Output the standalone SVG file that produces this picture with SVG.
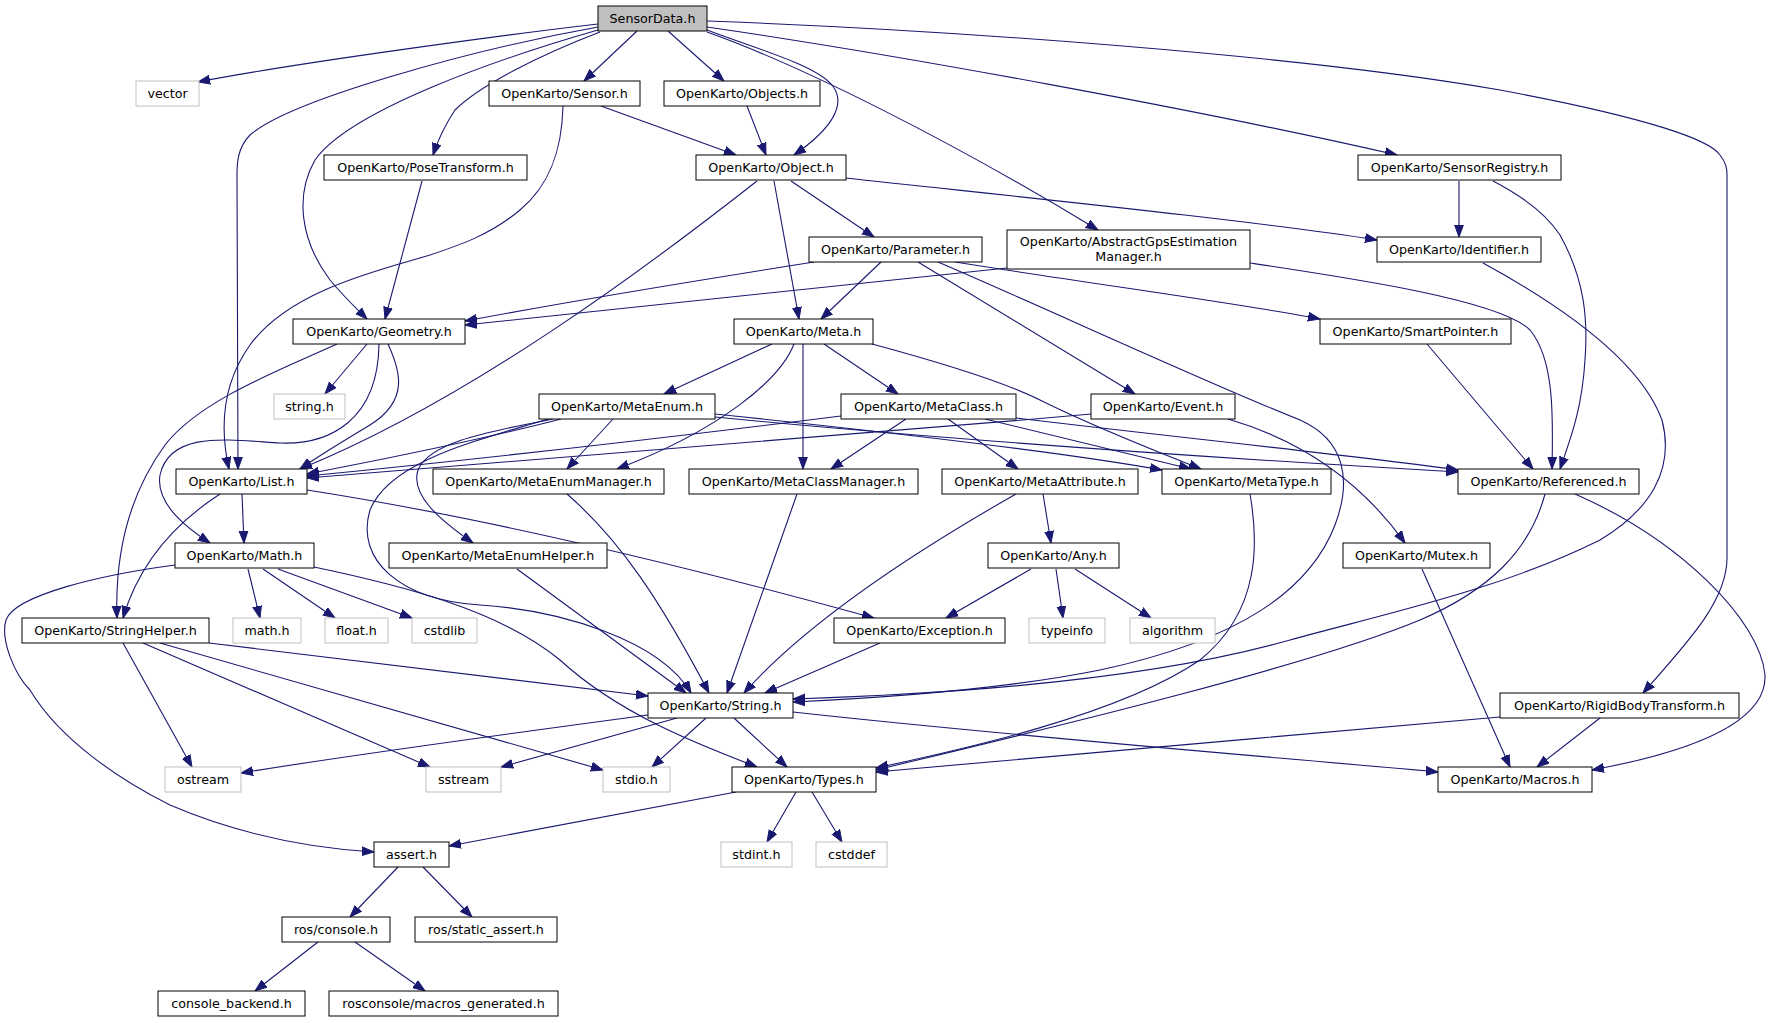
<svg xmlns="http://www.w3.org/2000/svg" width="1773" height="1023" viewBox="0 0 1773 1023">
<style>
.n rect{fill:#fff;stroke:#000;stroke-width:1}
.n.root rect{fill:#bfbfbf}
.n.ext rect{stroke:#bfbfbf}
.n text{font-family:"DejaVu Sans",sans-serif;font-size:12.7px;text-anchor:middle;fill:#000}
#edges path{fill:none;stroke:#191970;stroke-width:1.1;marker-end:url(#arr)}
</style>
<defs>
<marker id="arr" markerUnits="userSpaceOnUse" markerWidth="14" markerHeight="12" refX="12" refY="5" orient="auto">
<path d="M0,0.6 L12,5 L0,9.4 z" fill="#191970" stroke="#191970" stroke-width="1"/>
</marker>
</defs>
<rect width="1773" height="1023" fill="#fff"/>
<g id="edges">
<path d="M598,24 C520,33 300,62 198,82"/>
<path d="M598,27 C470,50 290,100 250,135 C237,148 237,165 237,175 L238,469"/>
<path d="M598,30 C500,58 350,110 315,160 C295,195 300,240 330,280 C345,298 358,310 367,319"/>
<path d="M600,32 C540,55 480,85 455,110 C445,125 438,140 433,155"/>
<path d="M637,31 L584,81"/>
<path d="M668,31 L724,81"/>
<path d="M707,30 C760,50 815,65 832,85 C848,105 830,130 794,155"/>
<path d="M707,32 C800,65 950,140 1098,230"/>
<path d="M707,27 C900,55 1200,110 1397,155"/>
<path d="M707,21 C950,30 1300,55 1500,90 C1650,118 1710,140 1720,155 C1726,163 1727,168 1727,175 L1727,558 C1727,600 1690,640 1643,693"/>
<path d="M601,106 L736,155"/>
<path d="M563,106 C562,150 550,185 520,210 C490,235 460,245 430,255 C380,270 290,290 250,345 C225,380 218,420 229,469"/>
<path d="M747,106 L766,155"/>
<path d="M757,181 C650,265 470,400 300,469"/>
<path d="M774,181 L799,319"/>
<path d="M791,181 L874,237"/>
<path d="M846,178 C1000,195 1250,220 1377,240"/>
<path d="M422,181 L385,319"/>
<path d="M1459,181 L1459,237"/>
<path d="M1493,181 C1520,195 1545,212 1560,235 C1585,280 1588,320 1585,360 C1582,410 1570,440 1560,469"/>
<path d="M1007,268 C800,290 600,312 465,325"/>
<path d="M814,262 C700,280 550,305 465,321"/>
<path d="M1250,263 C1350,278 1500,300 1530,330 C1555,360 1553,420 1552,469"/>
<path d="M881,262 L821,319"/>
<path d="M918,262 L1135,394"/>
<path d="M938,262 C1050,310 1200,380 1300,420 C1345,440 1352,480 1335,525 C1310,590 1240,640 1100,670 C1000,690 880,698 793,702"/>
<path d="M955,262 C1100,285 1250,305 1320,319"/>
<path d="M1483,263 C1560,305 1640,360 1662,420 C1675,470 1650,510 1600,540 C1500,590 1380,615 1290,640 C1150,680 950,694 793,699"/>
<path d="M1427,344 L1533,469"/>
<path d="M367,344 L325,394"/>
<path d="M388,344 C400,370 410,400 370,425 C345,440 320,455 300,469"/>
<path d="M379,344 C378,420 330,445 280,443 C230,440 170,430 160,475 C155,505 190,530 210,543"/>
<path d="M337,344 C280,370 200,400 165,445 C125,500 115,560 117,618"/>
<path d="M772,344 L664,394"/>
<path d="M824,344 L898,394"/>
<path d="M794,344 C780,380 720,430 617,469"/>
<path d="M803,344 L803,469"/>
<path d="M872,344 C950,365 1010,385 1040,400 C1080,420 1140,445 1201,469"/>
<path d="M561,419 C480,440 380,460 307,474"/>
<path d="M613,419 L567,469"/>
<path d="M553,419 C500,430 430,440 418,470 C410,495 440,520 473,543"/>
<path d="M548,419 C480,440 390,460 370,510 C355,560 400,600 480,605 C560,610 660,640 691,693"/>
<path d="M715,414 C850,428 1050,450 1162,470"/>
<path d="M715,417 C950,440 1250,460 1458,472"/>
<path d="M841,416 C650,440 450,462 307,476"/>
<path d="M906,419 L831,469"/>
<path d="M948,419 L1018,469"/>
<path d="M985,419 L1191,469"/>
<path d="M1016,418 C1200,440 1350,455 1458,470"/>
<path d="M1091,414 C800,440 500,462 307,478"/>
<path d="M1228,419 C1300,440 1360,480 1405,543"/>
<path d="M242,494 L244,543"/>
<path d="M220,494 C180,520 140,560 123,618"/>
<path d="M307,490 C500,520 700,570 874,618"/>
<path d="M567,494 C620,540 660,600 709,693"/>
<path d="M797,494 L727,693"/>
<path d="M1016,494 C900,560 800,630 744,693"/>
<path d="M1043,494 L1051,543"/>
<path d="M1250,494 C1258,540 1262,610 1200,660 C1120,715 960,750 876,768"/>
<path d="M1545,494 C1530,550 1490,590 1420,620 C1300,670 1000,740 876,770"/>
<path d="M1575,494 C1680,540 1760,620 1765,675 C1767,720 1700,750 1592,770"/>
<path d="M248,569 L260,618"/>
<path d="M263,569 L335,618"/>
<path d="M278,569 L412,618"/>
<path d="M175,565 C100,575 15,595 6,620 C0,640 15,675 30,690 C60,740 120,780 170,805 C240,835 310,848 374,852"/>
<path d="M314,567 C400,585 500,610 560,660 C620,715 700,745 757,767"/>
<path d="M517,569 L686,693"/>
<path d="M1031,569 L946,618"/>
<path d="M1056,569 L1063,618"/>
<path d="M1075,569 L1151,618"/>
<path d="M1422,569 L1510,767"/>
<path d="M123,643 L192,767"/>
<path d="M143,643 L430,767"/>
<path d="M160,643 L603,770"/>
<path d="M209,643 L648,696"/>
<path d="M880,643 L765,693"/>
<path d="M1500,717 C1300,735 1000,760 876,772"/>
<path d="M1600,718 L1537,767"/>
<path d="M648,715 C500,735 350,755 241,773"/>
<path d="M677,718 L501,767"/>
<path d="M706,718 L652,767"/>
<path d="M734,718 L787,767"/>
<path d="M793,712 C1000,735 1250,755 1438,772"/>
<path d="M736,792 L449,846"/>
<path d="M796,792 L767,842"/>
<path d="M812,792 L842,842"/>
<path d="M398,867 L350,917"/>
<path d="M423,867 L472,917"/>
<path d="M318,942 L255,991"/>
<path d="M355,942 L425,991"/>
</g>
<g id="n-SensorData" class="n root"><rect x="598" y="6" width="109" height="25"/><text x="652.5" y="23">SensorData.h</text></g>
<g id="n-vector" class="n ext"><rect x="136" y="81" width="63" height="25"/><text x="167.5" y="98">vector</text></g>
<g id="n-Sensor" class="n"><rect x="489" y="81" width="151" height="25"/><text x="564.5" y="98">OpenKarto/Sensor.h</text></g>
<g id="n-Objects" class="n"><rect x="664" y="81" width="156" height="25"/><text x="742" y="98">OpenKarto/Objects.h</text></g>
<g id="n-PoseTransform" class="n"><rect x="324" y="155" width="203" height="25"/><text x="425.5" y="172">OpenKarto/PoseTransform.h</text></g>
<g id="n-Object" class="n"><rect x="696" y="155" width="150" height="25"/><text x="771" y="172">OpenKarto/Object.h</text></g>
<g id="n-SensorRegistry" class="n"><rect x="1358" y="155" width="203" height="25"/><text x="1459.5" y="172">OpenKarto/SensorRegistry.h</text></g>
<g id="n-Parameter" class="n"><rect x="809" y="237" width="173" height="25"/><text x="895.5" y="254">OpenKarto/Parameter.h</text></g>
<g id="n-Abstract" class="n"><rect x="1007" y="230" width="243" height="39"/><text x="1128.5" y="246">OpenKarto/AbstractGpsEstimation</text><text x="1128.5" y="261">Manager.h</text></g>
<g id="n-Identifier" class="n"><rect x="1377" y="237" width="164" height="25"/><text x="1459" y="254">OpenKarto/Identifier.h</text></g>
<g id="n-Geometry" class="n"><rect x="293" y="319" width="172" height="25"/><text x="379" y="336">OpenKarto/Geometry.h</text></g>
<g id="n-Meta" class="n"><rect x="734" y="319" width="139" height="25"/><text x="803.5" y="336">OpenKarto/Meta.h</text></g>
<g id="n-SmartPointer" class="n"><rect x="1320" y="319" width="191" height="25"/><text x="1415.5" y="336">OpenKarto/SmartPointer.h</text></g>
<g id="n-string" class="n ext"><rect x="274" y="394" width="71" height="25"/><text x="309.5" y="411">string.h</text></g>
<g id="n-MetaEnum" class="n"><rect x="539" y="394" width="176" height="25"/><text x="627" y="411">OpenKarto/MetaEnum.h</text></g>
<g id="n-MetaClass" class="n"><rect x="841" y="394" width="175" height="25"/><text x="928.5" y="411">OpenKarto/MetaClass.h</text></g>
<g id="n-Event" class="n"><rect x="1091" y="394" width="144" height="25"/><text x="1163" y="411">OpenKarto/Event.h</text></g>
<g id="n-List" class="n"><rect x="176" y="469" width="131" height="25"/><text x="241.5" y="486">OpenKarto/List.h</text></g>
<g id="n-MetaEnumManager" class="n"><rect x="433" y="469" width="231" height="25"/><text x="548.5" y="486">OpenKarto/MetaEnumManager.h</text></g>
<g id="n-MetaClassManager" class="n"><rect x="689" y="469" width="229" height="25"/><text x="803.5" y="486">OpenKarto/MetaClassManager.h</text></g>
<g id="n-MetaAttribute" class="n"><rect x="942" y="469" width="196" height="25"/><text x="1040" y="486">OpenKarto/MetaAttribute.h</text></g>
<g id="n-MetaType" class="n"><rect x="1162" y="469" width="169" height="25"/><text x="1246.5" y="486">OpenKarto/MetaType.h</text></g>
<g id="n-Referenced" class="n"><rect x="1458" y="469" width="181" height="25"/><text x="1548.5" y="486">OpenKarto/Referenced.h</text></g>
<g id="n-Math" class="n"><rect x="175" y="543" width="139" height="25"/><text x="244.5" y="560">OpenKarto/Math.h</text></g>
<g id="n-MetaEnumHelper" class="n"><rect x="389" y="543" width="218" height="25"/><text x="498" y="560">OpenKarto/MetaEnumHelper.h</text></g>
<g id="n-Any" class="n"><rect x="988" y="543" width="131" height="25"/><text x="1053.5" y="560">OpenKarto/Any.h</text></g>
<g id="n-Mutex" class="n"><rect x="1343" y="543" width="147" height="25"/><text x="1416.5" y="560">OpenKarto/Mutex.h</text></g>
<g id="n-StringHelper" class="n"><rect x="22" y="618" width="187" height="25"/><text x="115.5" y="635">OpenKarto/StringHelper.h</text></g>
<g id="n-mathh" class="n ext"><rect x="233" y="618" width="68" height="25"/><text x="267" y="635">math.h</text></g>
<g id="n-floath" class="n ext"><rect x="325" y="618" width="63" height="25"/><text x="356.5" y="635">float.h</text></g>
<g id="n-cstdlib" class="n ext"><rect x="412" y="618" width="65" height="25"/><text x="444.5" y="635">cstdlib</text></g>
<g id="n-Exception" class="n"><rect x="834" y="618" width="171" height="25"/><text x="919.5" y="635">OpenKarto/Exception.h</text></g>
<g id="n-typeinfo" class="n ext"><rect x="1029" y="618" width="76" height="25"/><text x="1067" y="635">typeinfo</text></g>
<g id="n-algorithm" class="n ext"><rect x="1130" y="618" width="85" height="25"/><text x="1172.5" y="635">algorithm</text></g>
<g id="n-String" class="n"><rect x="648" y="693" width="145" height="25"/><text x="720.5" y="710">OpenKarto/String.h</text></g>
<g id="n-RigidBody" class="n"><rect x="1500" y="693" width="239" height="25"/><text x="1619.5" y="710">OpenKarto/RigidBodyTransform.h</text></g>
<g id="n-ostream" class="n ext"><rect x="165" y="767" width="76" height="25"/><text x="203" y="784">ostream</text></g>
<g id="n-sstream" class="n ext"><rect x="426" y="767" width="75" height="25"/><text x="463.5" y="784">sstream</text></g>
<g id="n-stdio" class="n ext"><rect x="603" y="767" width="67" height="25"/><text x="636.5" y="784">stdio.h</text></g>
<g id="n-Types" class="n"><rect x="732" y="767" width="144" height="25"/><text x="804" y="784">OpenKarto/Types.h</text></g>
<g id="n-Macros" class="n"><rect x="1438" y="767" width="154" height="25"/><text x="1515" y="784">OpenKarto/Macros.h</text></g>
<g id="n-assert" class="n"><rect x="374" y="842" width="75" height="25"/><text x="411.5" y="859">assert.h</text></g>
<g id="n-stdint" class="n ext"><rect x="721" y="842" width="71" height="25"/><text x="756.5" y="859">stdint.h</text></g>
<g id="n-cstddef" class="n ext"><rect x="816" y="842" width="71" height="25"/><text x="851.5" y="859">cstddef</text></g>
<g id="n-console" class="n"><rect x="282" y="917" width="108" height="25"/><text x="336" y="934">ros/console.h</text></g>
<g id="n-static_assert" class="n"><rect x="415" y="917" width="142" height="25"/><text x="486" y="934">ros/static_assert.h</text></g>
<g id="n-console_backend" class="n"><rect x="158" y="991" width="147" height="25"/><text x="231.5" y="1008">console_backend.h</text></g>
<g id="n-macros_generated" class="n"><rect x="329" y="991" width="229" height="25"/><text x="443.5" y="1008">rosconsole/macros_generated.h</text></g>
</svg>
